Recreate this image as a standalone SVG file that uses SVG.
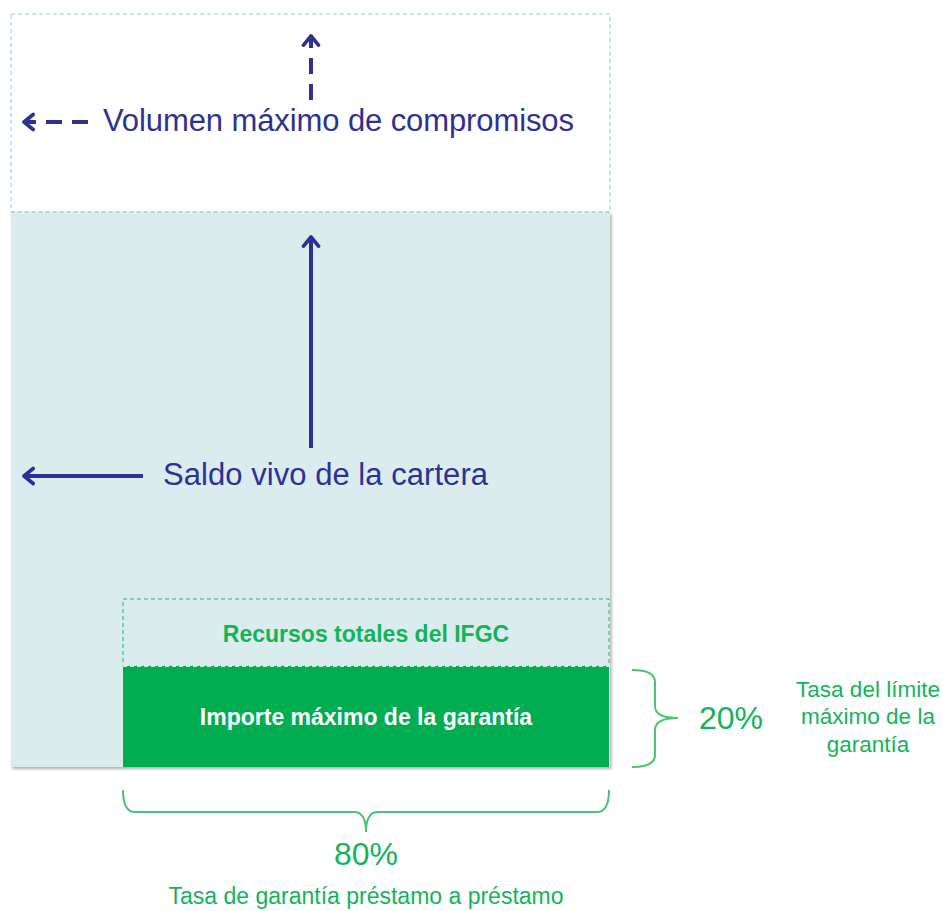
<svg xmlns="http://www.w3.org/2000/svg" width="943" height="911" viewBox="0 0 943 911">
<defs>
<style>
.navy{font-family:"Liberation Sans",Arial,sans-serif;fill:#2E3192;font-size:31px}
.grn{font-family:"Liberation Sans",Arial,sans-serif;fill:#14B35A}
.bold{font-weight:bold}
.arr{stroke:#2E3192;stroke-width:4;fill:none}
.brace{stroke:#4CC276;stroke-width:2;fill:none}
</style>
<marker id="ah" viewBox="0 0 12 12" refX="10" refY="6" markerWidth="5" markerHeight="5" orient="auto" markerUnits="strokeWidth">
<path d="M4.5,1.5 L10,6 L4.5,10.5" fill="none" stroke="#2E3192" stroke-width="2.2" stroke-linecap="round" stroke-linejoin="round"/>
</marker>
<filter id="sh" x="-5%" y="-5%" width="110%" height="110%">
<feDropShadow dx="1.5" dy="2" stdDeviation="1.5" flood-color="#777" flood-opacity="0.6"/>
</filter>
</defs>
<g id="volumen-box">
<rect x="11" y="14" width="599" height="198" fill="#FFFFFF" stroke="#8CCDD0" stroke-width="1" stroke-dasharray="4,3"/>
</g>
<g id="saldo-box">
<rect x="11" y="212" width="599" height="555" fill="#DAECEE" filter="url(#sh)"/>
<line x1="11" y1="212" x2="610" y2="212" stroke="#8CCDD0" stroke-width="1" stroke-dasharray="4,3"/>
</g>
<g id="recursos-box">
<rect x="123" y="599" width="486" height="67" fill="none" stroke="#2DB35E" stroke-width="1" stroke-dasharray="4,3"/>
<text x="366" y="642" text-anchor="middle" class="grn bold" font-size="23">Recursos totales del IFGC</text>
</g>
<g id="importe-box">
<rect x="123" y="666" width="486" height="101" fill="#00AD50"/>
<line x1="123" y1="666" x2="609" y2="666" stroke="#FFFFFF" stroke-width="1.5" stroke-dasharray="4,3"/>
<text x="366" y="725" text-anchor="middle" font-family="Liberation Sans, Arial, sans-serif" font-weight="bold" font-size="23" fill="#FFFFFF">Importe máximo de la garantía</text>
</g>
<g id="connectors">
<line class="arr" x1="311" y1="100" x2="311" y2="36" stroke-dasharray="16,10" marker-end="url(#ah)"/>
<line class="arr" x1="88" y1="122" x2="24" y2="122" stroke-dasharray="16,10" marker-end="url(#ah)"/>
<line class="arr" x1="311" y1="448" x2="311" y2="237" marker-end="url(#ah)"/>
<line class="arr" x1="143" y1="476" x2="24" y2="476" marker-end="url(#ah)"/>
<path class="brace" d="M632,670 Q655,670 655,682 L655,706 Q655,718 678,718 Q655,718 655,730 L655,755 Q655,767 632,767"/>
<path class="brace" d="M123,790 Q123,812 135,812 L354,812 Q366,812 366,832 Q366,812 378,812 L597,812 Q609,812 609,790"/>
</g>
<g id="labels">
<text x="103" y="131" class="navy" textLength="471" lengthAdjust="spacing">Volumen máximo de compromisos</text>
<text x="163" y="485" class="navy" textLength="325" lengthAdjust="spacing">Saldo vivo de la cartera</text>
<text x="731" y="729" text-anchor="middle" class="grn" font-size="32">20%</text>
<text x="868" y="697" text-anchor="middle" class="grn" font-size="22.5">Tasa del límite</text>
<text x="868" y="724" text-anchor="middle" class="grn" font-size="22.5">máximo de la</text>
<text x="868" y="752" text-anchor="middle" class="grn" font-size="22.5">garantía</text>
<text x="366" y="865" text-anchor="middle" class="grn" font-size="32">80%</text>
<text x="366" y="904" text-anchor="middle" class="grn" font-size="23">Tasa de garantía préstamo a préstamo</text>
</g>
</svg>
